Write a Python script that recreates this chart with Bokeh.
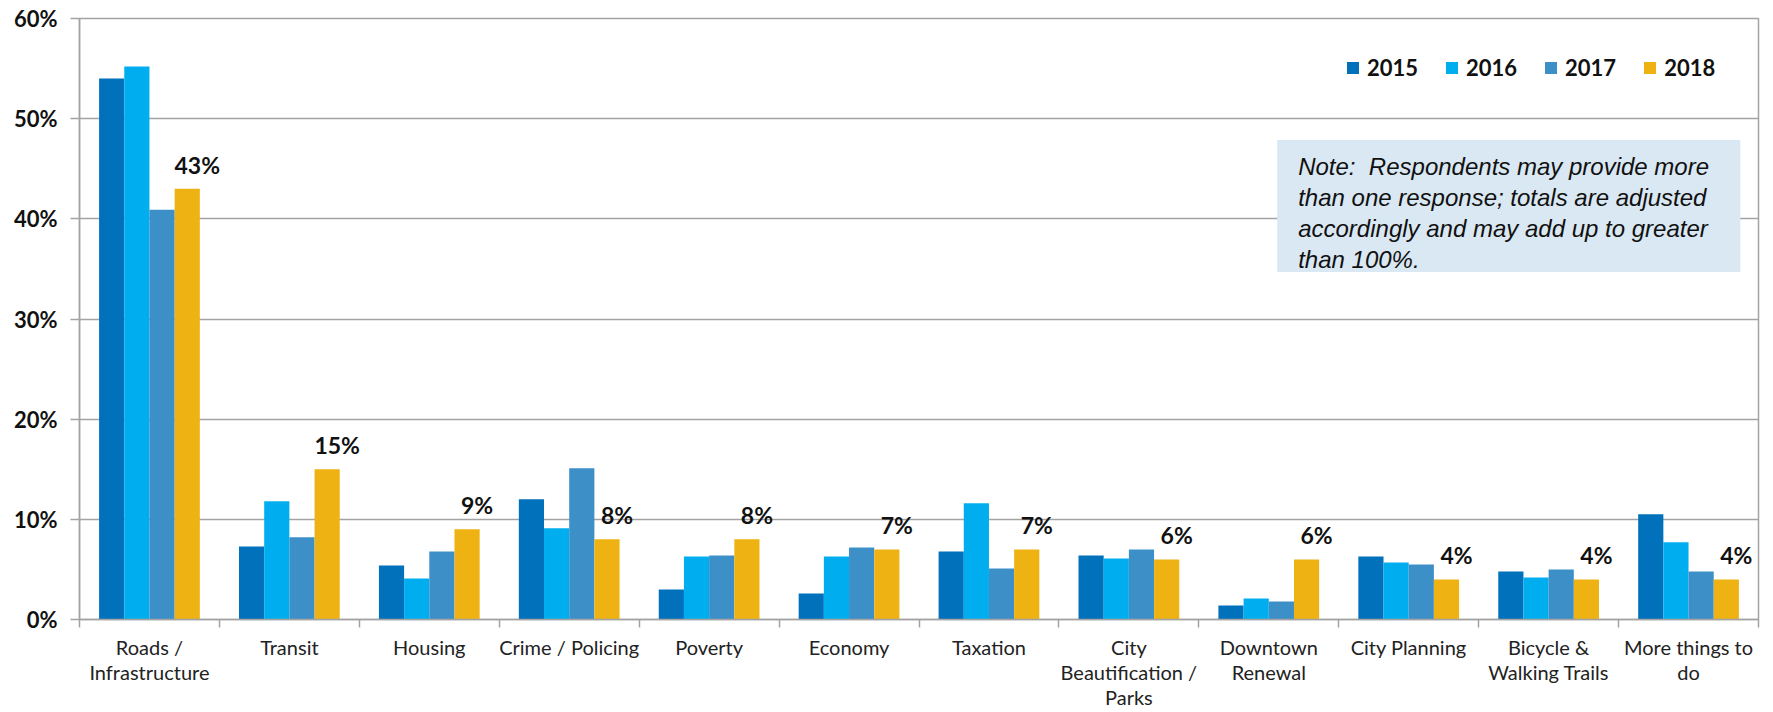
from bokeh.plotting import figure
from bokeh.models import (ColumnDataSource, Range1d, FixedTicker,
                          PrintfTickFormatter, BoxAnnotation, Label)
from bokeh.transform import dodge
from bokeh.core.properties import value
from bokeh.embed import file_html
from bokeh.resources import INLINE

categories = ["Roads /\nInfrastructure", "Transit", "Housing", "Crime / Policing", "Poverty",
              "Economy", "Taxation", "City\nBeautification /\nParks", "Downtown\nRenewal",
              "City Planning", "Bicycle &\nWalking Trails", "More things to\ndo"]
years = ["2015", "2016", "2017", "2018"]
v2015 = [54.0, 7.3, 5.4, 12.0, 3.0, 2.6, 6.8, 6.4, 1.4, 6.3, 4.8, 10.5]
v2016 = [55.2, 11.8, 4.1, 9.1, 6.3, 6.3, 11.6, 6.1, 2.1, 5.7, 4.2, 7.7]
v2017 = [40.9, 8.2, 6.8, 15.1, 6.4, 7.2, 5.1, 7.0, 1.8, 5.5, 5.0, 4.8]
v2018 = [43.0, 15.0, 9.0, 8.0, 8.0, 7.0, 7.0, 6.0, 6.0, 4.0, 4.0, 4.0]
y_ticks = [0, 10, 20, 30, 40, 50, 60]
note_text = ("Note:\u00a0 Respondents may provide more\nthan one response; totals are adjusted\n"
             "accordingly and may add up to greater\nthan 100%.")

colors = ["#0071BA", "#00AEEF", "#3D8FC8", "#EEB313"]
offsets = [-0.27, -0.09, 0.09, 0.27]

n = len(categories)
idx = list(range(n))
src = ColumnDataSource(dict(xi=idx, v2015=v2015, v2016=v2016, v2017=v2017, v2018=v2018,
                            lbl=[f"{v:.0f}%" for v in v2018]))

FONT = "Lato"
GRID = "#A3A3A3"

p = figure(x_range=Range1d(-0.5, n - 0.5), y_range=Range1d(y_ticks[0], y_ticks[-1]),
           width=1773, height=712, output_backend="svg", toolbar_location=None,
           min_border_left=79, min_border_right=15, min_border_top=18, min_border_bottom=10)

for yr, col, off in zip(years, colors, offsets):
    p.vbar(x=dodge("xi", off), top="v" + yr, width=0.18, source=src,
           fill_color=col, line_color=None, legend_label=yr)

p.text(x=dodge("xi", offsets[3]), y="v2018", text="lbl", source=src,
       text_font=value(FONT), text_font_style="bold", text_font_size="23px",
       text_align="center", text_baseline="alphabetic", x_offset=10, y_offset=-24,
       text_color="#111111")

# note box
p.add_layout(BoxAnnotation(left=8.06, right=11.37, bottom=34.7, top=47.86,
                           fill_color="#DAE8F3", fill_alpha=1, line_color=None, level="underlay"))
p.add_layout(Label(x=8.21, y=46.6, text=note_text, text_font="Liberation Sans",
                   text_font_style="italic", text_font_size="24px", text_line_height=1.15,
                   text_baseline="top", text_align="left", text_color="#111111"))

# grid / outline
p.xgrid.grid_line_color = None
p.ygrid.grid_line_color = GRID
p.ygrid.grid_line_width = 1.5
p.ygrid.ticker = FixedTicker(ticks=y_ticks)
p.outline_line_color = GRID
p.outline_line_width = 1.5
p.background_fill_color = "white"
p.border_fill_color = "white"

# y axis
ya = p.yaxis[0]
ya.ticker = FixedTicker(ticks=y_ticks)
ya.formatter = PrintfTickFormatter(format="%d%%")
ya.axis_line_color = GRID
ya.axis_line_width = 1.5
ya.major_tick_line_color = GRID
ya.major_tick_line_width = 1.5
ya.major_tick_in = 0
ya.major_tick_out = 9
ya.minor_tick_line_color = None
ya.major_label_text_font = FONT
ya.major_label_text_font_style = "bold"
ya.major_label_text_font_size = "22px"
ya.major_label_text_color = "#111111"
ya.major_label_standoff = 13

# x axis: labels at category centres (major), tick marks at boundaries (minor)
xa = p.xaxis[0]
xa.ticker = FixedTicker(ticks=idx, minor_ticks=[i - 0.5 for i in range(n + 1)])
xa.major_label_overrides = {i: c for i, c in zip(idx, categories)}
xa.major_tick_line_color = None
xa.major_tick_in = 0
xa.major_tick_out = 0
xa.minor_tick_line_color = GRID
xa.minor_tick_line_width = 1.5
xa.minor_tick_in = 0
xa.minor_tick_out = 8
xa.axis_line_color = GRID
xa.axis_line_width = 1.5
xa.major_label_text_font = FONT
xa.major_label_text_font_size = "20px"
xa.major_label_text_color = "#222222"
xa.major_label_standoff = 7
xa.major_label_text_line_height = 1.06

# legend
lg = p.legend[0]
lg.orientation = "horizontal"
lg.location = (1266, 538)
lg.padding = 5
lg.margin = 0
lg.spacing = 26
lg.label_standoff = 7
lg.glyph_width = 15
lg.glyph_height = 15
lg.label_text_font = FONT
lg.label_text_font_style = "bold"
lg.label_text_font_size = "22px"
lg.label_text_color = "#111111"
lg.background_fill_alpha = 0
lg.border_line_color = None

open("out.html", "w").write(file_html(p, INLINE))
